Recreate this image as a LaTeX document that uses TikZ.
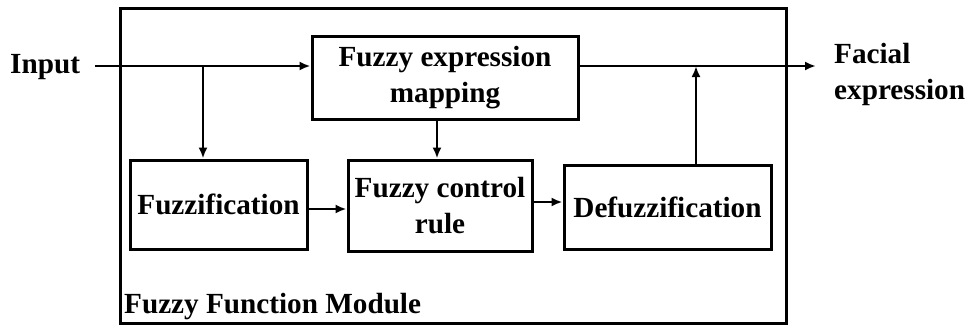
\documentclass[tikz,border=0pt]{standalone}
\usepackage{fontspec}
\setmainfont{Liberation Serif}
\usetikzlibrary{arrows.meta}
\begin{document}
\begin{tikzpicture}[x=1pt,y=-1pt,
  every node/.style={font=\fontsize{29.2}{36.5}\selectfont\bfseries},
  blk/.style={draw, line width=3pt, inner sep=0pt, align=center},
  link/.style={line width=2.6pt, -{Latex[length=11pt,width=9pt]}},
  lbl/.style={inner sep=0pt}]
  \useasboundingbox (0,0) rectangle (969,327);

  % outer module frame
  \draw[line width=3pt] (120,8) rectangle (786,323);
  \node[lbl, anchor=base west] (mod) at (124,313) {Fuzzy Function Module};

  % processing blocks
  \node[blk, minimum width=266pt, minimum height=83pt] (map) at (445,77.5) {Fuzzy expression\\mapping};
  \node[blk, minimum width=177pt, minimum height=89pt] (fuzz) at (218.5,204.5) {Fuzzification};
  \node[blk, minimum width=184pt, minimum height=91pt] (rule) at (440,205.5) {Fuzzy control\\rule};
  \node[blk, minimum width=207pt, minimum height=84pt] (defuzz) at (667.5,207) {Defuzzification};

  % external labels
  \node[lbl, anchor=base west] (in) at (10,73) {Input};
  \node[lbl, anchor=north west, align=left] (out) at (834,43) {Facial\\expression};

  % reference points for the signal lines
  \coordinate (inS) at (95,66);
  \coordinate (br) at (203,66);
  \coordinate (dn) at (437,0);
  \coordinate (up) at (696,66);
  \coordinate (outE) at (816,66);
  \coordinate (r1) at (0,209);
  \coordinate (r2) at (0,202);

  % connectors
  \draw[link] (inS) -- (inS -| map.west);
  \draw[link] (br) -- (br |- fuzz.north);
  \draw[link] (map.south -| dn) -- (rule.north -| dn);
  \draw[link] (fuzz.east |- r1) -- (rule.west |- r1);
  \draw[link] (rule.east |- r2) -- (defuzz.west |- r2);
  \draw[link] (defuzz.north -| up) -- (up);
  \draw[link] (map.east |- outE) -- (outE);
\end{tikzpicture}
\end{document}
